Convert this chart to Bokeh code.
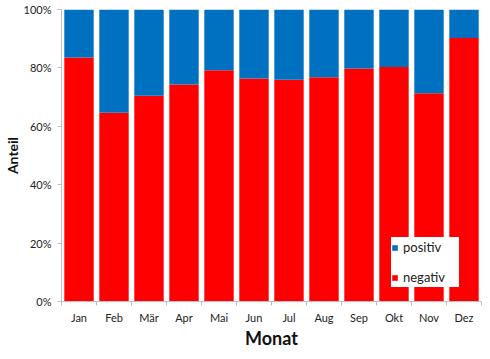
from bokeh.plotting import figure
from bokeh.models import (ColumnDataSource, Range1d, FixedTicker, NumeralTickFormatter,
                          Legend, LegendItem)
from bokeh.embed import file_html
from bokeh.resources import INLINE

months = ["Jan", "Feb", "Mär", "Apr", "Mai", "Jun", "Jul", "Aug", "Sep", "Okt", "Nov", "Dez"]
negativ = [0.836, 0.646, 0.705, 0.743, 0.792, 0.764, 0.759, 0.768, 0.798, 0.803, 0.713, 0.902]
positiv = [0.164, 0.354, 0.295, 0.257, 0.208, 0.236, 0.241, 0.232, 0.202, 0.197, 0.287, 0.098]
y_ticks = [0, 0.2, 0.4, 0.6, 0.8, 1.0]

RED = "#FF0000"
BLUE = "#0070C0"
FONT = "Lato"

xs = [i + 0.5 for i in range(len(months))]
src = ColumnDataSource(dict(x=xs, negativ=negativ, positiv=positiv))

p = figure(width=482, height=351, output_backend="svg", toolbar_location=None,
           x_range=Range1d(0, len(months)), y_range=Range1d(0, 1),
           min_border_left=52, min_border_right=1, min_border_top=9, min_border_bottom=40)

rs = p.vbar_stack(["negativ", "positiv"], x="x", width=0.84, source=src,
                  color=[RED, BLUE], line_color=None)

legend = Legend(items=[LegendItem(label="positiv", renderers=[rs[1]]),
                      LegendItem(label="negativ", renderers=[rs[0]])],
                location=(330, 14), background_fill_color="white", background_fill_alpha=1,
                border_line_color=None, label_text_font=FONT, label_text_font_size="13px",
                label_text_color="#222222",
                glyph_width=7, glyph_height=7, label_height=20, label_width=56, spacing=10,
                padding=9, margin=0, label_standoff=5)
p.add_layout(legend)

p.xgrid.visible = False
p.ygrid.visible = False
p.outline_line_color = None

p.xaxis.ticker = FixedTicker(ticks=xs, minor_ticks=list(range(len(months) + 1)))
p.xaxis.major_label_overrides = {x: m for x, m in zip(xs, months)}
p.xaxis.major_tick_line_color = None
p.xaxis.major_tick_out = 4
p.xaxis.major_tick_in = 0
p.xaxis.minor_tick_line_color = "#BFBFBF"
p.xaxis.minor_tick_out = 4
p.xaxis.minor_tick_in = 0
p.xaxis.axis_line_color = "#BFBFBF"
p.xaxis.major_label_text_font = FONT
p.xaxis.major_label_text_font_size = "11px"
p.xaxis.major_label_text_color = "#222222"
p.xaxis.major_label_standoff = 5
p.xaxis.axis_label = "Monat"
p.xaxis.axis_label_text_font = FONT
p.xaxis.axis_label_text_font_size = "18px"
p.xaxis.axis_label_text_font_style = "bold"
p.xaxis.axis_label_text_color = "#111111"
p.xaxis.axis_label_standoff = 0

p.yaxis.ticker = FixedTicker(ticks=y_ticks, minor_ticks=[])
p.yaxis.formatter = NumeralTickFormatter(format="0%")
p.yaxis.axis_line_color = "#BFBFBF"
p.yaxis.major_tick_line_color = "#BFBFBF"
p.yaxis.major_tick_out = 4
p.yaxis.major_tick_in = 0
p.yaxis.major_label_text_font = FONT
p.yaxis.major_label_text_font_size = "11px"
p.yaxis.major_label_text_color = "#222222"
p.yaxis.major_label_standoff = 6
p.yaxis.axis_label = "Anteil"
p.yaxis.axis_label_text_font = FONT
p.yaxis.axis_label_text_font_size = "14px"
p.yaxis.axis_label_text_font_style = "bold"
p.yaxis.axis_label_text_color = "#111111"
p.yaxis.axis_label_standoff = 0

open("out.html", "w").write(file_html(p, INLINE))
